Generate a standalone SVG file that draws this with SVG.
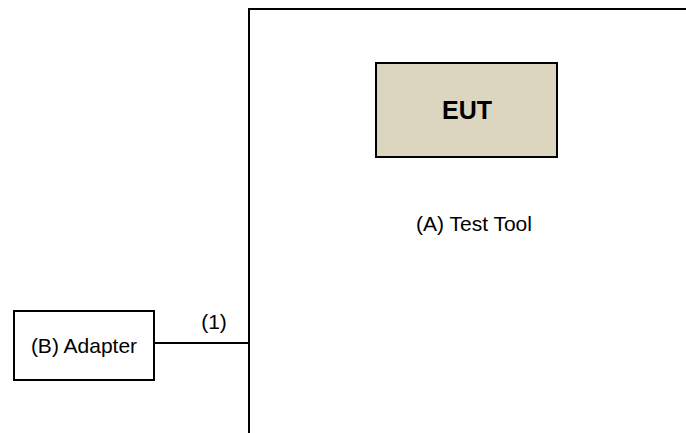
<svg xmlns="http://www.w3.org/2000/svg" width="686" height="433" viewBox="0 0 686 433">
<style>
text{font-family:"Liberation Sans",Arial,sans-serif;fill:#000;text-anchor:middle}
.lbl{font-size:21px}
.box{stroke:#000;stroke-width:2}
</style>
<rect width="686" height="433" fill="#fff"/>
<g id="test-tool">
<path d="M249,433 V9 H690" fill="none" stroke="#000" stroke-width="2"/>
<text class="lbl" x="474" y="231">(A) Test Tool</text>
</g>
<g id="eut">
<rect class="box" x="376" y="63" width="181" height="94" fill="#DCD6C0"/>
<text x="467" y="119" font-size="25" font-weight="bold">EUT</text>
</g>
<g id="adapter">
<rect class="box" x="14" y="311" width="140" height="69" fill="#fff"/>
<text class="lbl" x="84" y="353">(B) Adapter</text>
</g>
<g id="connectors">
<line x1="154" y1="343" x2="249" y2="343" stroke="#000" stroke-width="2"/>
<text class="lbl" x="214" y="329">(1)</text>
</g>
</svg>
